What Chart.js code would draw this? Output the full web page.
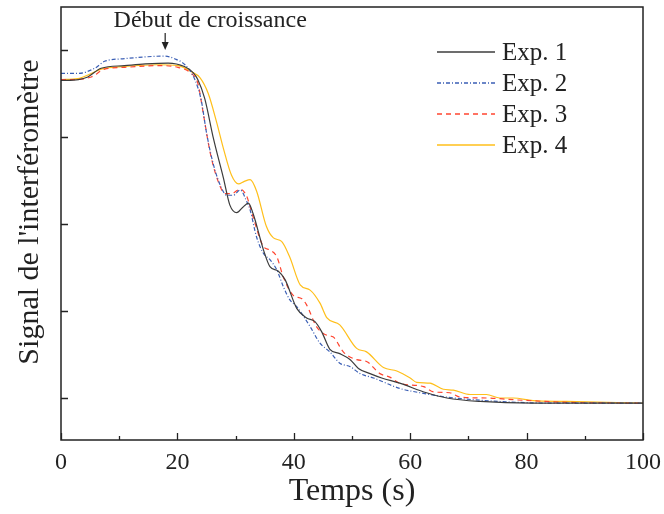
<!DOCTYPE html>
<html><head><meta charset="utf-8">
<script src="https://cdn.jsdelivr.net/npm/chart.js@4.4.1/dist/chart.umd.min.js"></script>
<style>html,body{margin:0;padding:0;background:#fff}#wrap{width:664px;height:514px}</style>
</head><body><div id="wrap"><canvas id="c" width="664" height="514"></canvas></div>
<script>
// ---- data (time in s, signal in arbitrary units) ----
const exp1T = [0,3,4.6,6.9,10.9,14.5,18.4,21.2,22.7,23.5,24.7,26.2,27.9,29.0,30.2,31.2,32.2,33.0,34.8,35.9,37.3,38.5,40.5,42.2,43.6,44.8,46.2,47.9,49.7,51.1,53.1,55.1,58.2,62.8,66.3,72,81,90,100];
const exp1V = [3.65,3.66,3.69,3.79,3.82,3.84,3.85,3.81,3.74,3.66,3.44,2.98,2.53,2.22,2.13,2.19,2.24,2.12,1.70,1.51,1.46,1.36,1.03,0.92,0.88,0.76,0.56,0.51,0.44,0.34,0.28,0.23,0.17,0.06,0.00,-0.04,-0.06,-0.06,-0.06];

const exp2T = [0,2.9,5.8,7.5,10.9,14.4,17.8,19.5,21.3,23.0,24.1,25.0,26.2,27.6,28.5,29.6,30.8,31.9,32.5,33.6,34.8,35.9,37.1,38.2,39.3,40.5,42.8,44.5,46.2,47.9,49.7,51.4,53.7,58.2,61.7,66.3,75.4,85,100];
const exp2V = [3.73,3.73,3.79,3.87,3.90,3.92,3.93,3.90,3.83,3.66,3.42,3.05,2.68,2.41,2.33,2.33,2.39,2.26,2.16,1.85,1.66,1.59,1.47,1.28,1.13,1.05,0.82,0.63,0.53,0.40,0.36,0.28,0.23,0.11,0.06,0.01,-0.04,-0.06,-0.06];

const exp3T = [0,2.4,5.2,7.5,10.9,16.7,20.1,22.4,23.5,24.5,25.6,27.0,28.2,29.3,30.8,31.9,33.0,34.8,35.9,37.1,38.2,39.9,41.4,42.2,43.9,45.7,46.8,48.5,50.8,52.5,54.8,56.5,58.2,62.3,64.0,66.8,68.6,73.1,77.7,86.9,100];
const exp3V = [3.66,3.66,3.69,3.78,3.80,3.82,3.80,3.73,3.62,3.25,2.83,2.49,2.35,2.35,2.40,2.32,2.08,1.74,1.70,1.62,1.39,1.18,1.14,1.07,0.82,0.72,0.70,0.53,0.44,0.42,0.28,0.24,0.17,0.13,0.07,0.06,0.01,0.00,-0.02,-0.05,-0.06];

const exp4T = [0,2.9,5.2,6.9,10.9,16.7,20.1,22.4,23.9,25.3,26.7,27.9,29.3,30.5,31.5,32.5,33.6,35.3,36.5,37.9,39.3,41.1,42.8,44.5,45.7,47.9,50.8,52.5,55.4,57.7,60.0,61.1,63.4,65.7,67.4,70.3,73.1,75.4,77.7,81.1,86.9,100];
const exp4V = [3.66,3.67,3.73,3.78,3.81,3.83,3.82,3.75,3.68,3.50,3.18,2.87,2.56,2.46,2.49,2.51,2.38,1.97,1.84,1.80,1.62,1.30,1.24,1.09,0.92,0.84,0.57,0.53,0.35,0.31,0.23,0.18,0.17,0.10,0.09,0.04,0.04,0.00,0.00,-0.03,-0.04,-0.06];

const seriesNames = ['Exp. 1','Exp. 2','Exp. 3','Exp. 4'];
const xTickValues = [0,10,20,30,40,50,60,70,80,90,100];
const yTickValues = [0,1,2,3,4];
const xTitle = 'Temps (s)';
const yTitle = "Signal de l'interféromètre";
const annotationText = 'Début de croissance';
const annotationT = 17.9;
const annotationV = 4.0;

// ---- chart ----
const FONT = "'Liberation Serif', 'Times New Roman', serif";
Chart.defaults.font.family = FONT;
Chart.defaults.color = '#222';

const toPts = (T, V) => T.map((t, i) => ({x: t, y: V[i]}));
const styles = [
  {borderColor: '#3c3c3c', borderDash: []},
  {borderColor: '#3b5fb5', borderDash: [4,2,1,2]},
  {borderColor: '#ff4530', borderDash: [5,4]},
  {borderColor: '#ffbf1a', borderDash: []}
];
const series = [[exp1T, exp1V],[exp2T, exp2V],[exp3T, exp3V],[exp4T, exp4V]];

const datasets = series.map((s, i) => ({
  label: seriesNames[i],
  data: toPts(s[0], s[1]),
  borderColor: styles[i].borderColor,
  borderDash: styles[i].borderDash,
  borderWidth: 1.2,
  pointRadius: 0,
  fill: false,
  cubicInterpolationMode: 'monotone'
}));

const decor = {
  id: 'decor',
  afterDraw(chart) {
    const {ctx, chartArea: a, scales: {x, y}} = chart;
    ctx.save();
    // frame
    ctx.strokeStyle = '#222';
    ctx.lineWidth = 1.5;
    ctx.setLineDash([]);
    ctx.strokeRect(a.left, a.top, a.right - a.left, a.bottom - a.top);
    // inward ticks
    ctx.lineWidth = 1.3;
    ctx.beginPath();
    xTickValues.forEach(v => {
      const px = Math.round(x.getPixelForValue(v)) + 0.5;
      const len = (v % 20 === 0) ? 7 : 4;
      ctx.moveTo(px, a.bottom); ctx.lineTo(px, a.bottom - len);
    });
    yTickValues.forEach(v => {
      const py = Math.round(y.getPixelForValue(v)) + 0.5;
      ctx.moveTo(a.left, py); ctx.lineTo(a.left + 7, py);
    });
    ctx.stroke();
    // y title
    ctx.fillStyle = '#222';
    ctx.save();
    ctx.translate(30, 212);
    ctx.rotate(-Math.PI / 2);
    ctx.font = '30px ' + FONT;
    ctx.textAlign = 'center';
    ctx.textBaseline = 'middle';
    ctx.fillText(yTitle, 0, 0);
    ctx.restore();
    // annotation
    const ax = x.getPixelForValue(annotationT);
    const ay = y.getPixelForValue(annotationV);
    ctx.font = '24px ' + FONT;
    ctx.textAlign = 'center';
    ctx.textBaseline = 'middle';
    ctx.fillText(annotationText, ax + 45, a.top + 14);
    ctx.lineWidth = 1.2;
    ctx.beginPath();
    ctx.moveTo(ax, ay - 17); ctx.lineTo(ax, ay - 6);
    ctx.stroke();
    ctx.beginPath();
    ctx.moveTo(ax - 3.5, ay - 8); ctx.lineTo(ax + 3.5, ay - 8); ctx.lineTo(ax, ay); ctx.closePath();
    ctx.fill();
    // legend
    const lx0 = a.right - 206, lx1 = a.right - 148, tx = a.right - 141;
    ctx.textAlign = 'left';
    ctx.font = '25px ' + FONT;
    chart.data.datasets.forEach((d, i) => {
      const ly = a.top + 45 + i * 31;
      ctx.strokeStyle = d.borderColor;
      ctx.lineWidth = 1.4;
      ctx.setLineDash(d.borderDash);
      ctx.beginPath();
      ctx.moveTo(lx0, ly); ctx.lineTo(lx1, ly);
      ctx.stroke();
      ctx.setLineDash([]);
      ctx.fillStyle = '#222';
      ctx.fillText(d.label, tx, ly + 1);
    });
    ctx.restore();
  }
};

new Chart(document.getElementById('c'), {
  type: 'line',
  data: {datasets},
  options: {
    responsive: false,
    animation: false,
    devicePixelRatio: 1,
    layout: {padding: {top: 7, right: 21, left: 0, bottom: 0}},
    plugins: {legend: {display: false}, tooltip: {enabled: false}},
    scales: {
      x: {
        type: 'linear', position: 'bottom', min: 0, max: 100,
        grid: {display: false, drawTicks: false},
        border: {display: false},
        ticks: {stepSize: 20, font: {size: 24}, color: '#222', padding: 8, maxRotation: 0},
        title: {display: true, text: xTitle, font: {size: 32, lineHeight: 1}, color: '#222', padding: {top: 0, bottom: 6}},
        afterFit: s => { s.height = 74; s.paddingLeft = 0; s.paddingRight = 0; }
      },
      y: {
        type: 'linear', position: 'left', min: -0.483, max: 4.494,
        grid: {display: false, drawTicks: false},
        border: {display: false},
        ticks: {display: false},
        title: {display: false},
        afterFit: s => { s.width = 61; s.paddingTop = 0; s.paddingBottom = 0; }
      }
    }
  },
  plugins: [decor]
});
</script></body></html>
